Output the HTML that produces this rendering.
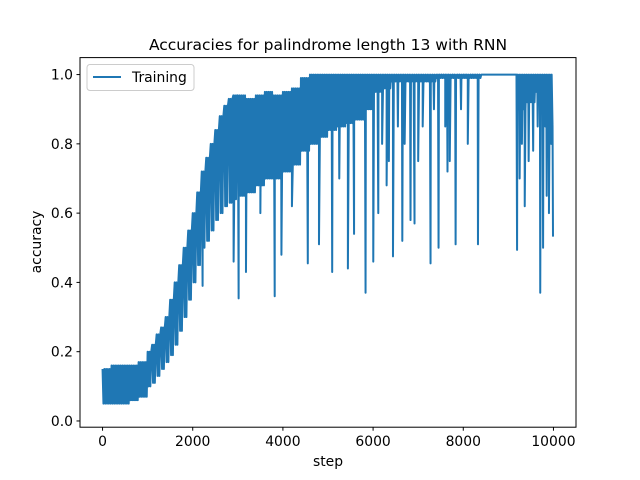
<!DOCTYPE html>
<html><head><meta charset="utf-8"><style>
body{margin:0;background:#fff;}
svg{display:block;font-family:"DejaVu Sans","Liberation Sans",sans-serif;}
</style></head><body>
<svg id="chart" width="640" height="480" xmlns="http://www.w3.org/2000/svg">
<rect width="640" height="480" fill="#fff"/>
<text x="328" y="50" font-size="15.5" text-anchor="middle">Accuracies for palindrome length 13 with RNN</text>
<g id="plot"></g>
<g id="axes"></g>
<text x="328" y="466" font-size="13.9" text-anchor="middle">step</text>
<text transform="translate(41,242) rotate(-90)" font-size="13.9" text-anchor="middle">accuracy</text>
<rect x="80" y="57.6" width="496" height="369.6" fill="none" stroke="#000" stroke-width="1"/>
<g>
<rect x="87" y="64.5" width="107" height="26" rx="3" fill="#fff" fill-opacity="0.8" stroke="#ccc"/>
<line x1="93" y1="77" x2="121" y2="77" stroke="#1f77b4" stroke-width="2"/>
<text x="132" y="82" font-size="13.9">Training</text>
</g>
</svg>
<script>
const binSteps=[0,200,400,600,800,1000,1100,1200,1300,1400,1500,1600,1700,1800,1900,2000,2100,2200,2300,2400,2500,2600,2700,2800,2900,3000,3200,3400,3600,3800,4000,4200,4400,4600,4800,5000,5200,5400,5600,5800,6000,6200,6400,6600,6800,7000,7200,7400,7600,7800,8000,8200,8400,8600,8800,9000,9200,9400,9600,9800];
const upperAcc=[0.15,0.16,0.16,0.16,0.17,0.2,0.22,0.25,0.27,0.3,0.35,0.4,0.45,0.5,0.55,0.6,0.66,0.72,0.76,0.8,0.84,0.88,0.91,0.93,0.94,0.94,0.93,0.94,0.95,0.94,0.95,0.96,0.99,1,1,1,1,1,1,1,1,1,1,1,1,1,1,1,1,1,1,1,1,1,1,1,1,1,1,1];
const lowerAcc=[0.05,0.05,0.05,0.06,0.07,0.1,0.11,0.13,0.15,0.17,0.19,0.22,0.26,0.3,0.35,0.4,0.45,0.5,0.52,0.55,0.58,0.6,0.62,0.63,0.64,0.65,0.66,0.68,0.7,0.7,0.72,0.74,0.78,0.8,0.82,0.84,0.85,0.86,0.87,0.9,0.95,0.96,0.98,0.98,0.98,0.98,0.98,0.99,0.99,0.99,0.99,0.99,1,1,1,1,0.9,0.92,0.95,0.85];
const spikeSteps=[2219,2907,3018,3181,3818,3967,4552,4800,5093,5441,5578,5833,6004,6115,6441,6648,6830,6919,7274,7452,7830,8326,9193,9363,9707,9770,9990,3500,4200,5250,6300,7000,7650,8100,9450,9900,6200,6350,6550,6700,7100,7350,7600,7700,7950,9250,9300,9550,9650,9850,9950];
const spikeAcc=[0.39,0.46,0.354,0.43,0.36,0.48,0.455,0.51,0.43,0.44,0.54,0.37,0.46,0.6,0.475,0.52,0.58,0.57,0.455,0.5,0.51,0.51,0.494,0.62,0.37,0.5,0.532,0.6,0.62,0.7,0.68,0.75,0.72,0.8,0.75,0.6,0.8,0.75,0.85,0.8,0.85,0.9,0.85,0.75,0.9,0.7,0.8,0.78,0.85,0.65,0.8];
const xTicks=[0,2000,4000,6000,8000,10000];
const yTicks=[0.0,0.2,0.4,0.6,0.8,1.0];
const yTickLabels=["0.0","0.2","0.4","0.6","0.8","1.0"];

const X0=80,W=496,Y0=57.6,H=369.6,xmin=-500,xmax=10500,ymin=-0.018,ymax=1.049;
const sx=v=>X0+(v-xmin)/(xmax-xmin)*W;
const sy=v=>Y0+H-(v-ymin)/(ymax-ymin)*H;
const NS="http://www.w3.org/2000/svg";
let pts=[];
binSteps.forEach((s,i)=>{const end=i+1<binSteps.length?binSteps[i+1]:10000;let k=0;for(let t=s;t<end;t+=20,k++){pts.push([t,k%2?lowerAcc[i]:upperAcc[i]]);}});
spikeSteps.forEach((s,i)=>pts.push([s,spikeAcc[i]]));
pts.sort((a,b)=>a[0]-b[0]);
const line=document.createElementNS(NS,'polyline');


line.setAttribute('points',pts.map(p=>sx(p[0]).toFixed(2)+','+sy(p[1]).toFixed(2)).join(' '));
line.setAttribute('fill','none');line.setAttribute('stroke','#1f77b4');line.setAttribute('stroke-width','2');line.setAttribute('stroke-linejoin','round');
document.getElementById('plot').appendChild(line);
const ax=document.getElementById('axes');
xTicks.forEach(t=>{
  const l=document.createElementNS(NS,'line');
  
  
  l.setAttribute('x1',sx(t));l.setAttribute('x2',sx(t));l.setAttribute('y1',427.2);l.setAttribute('y2',430.7);l.setAttribute('stroke','#000');
  ax.appendChild(l);
  const tx=document.createElementNS(NS,'text');
  
  
  tx.setAttribute('x',sx(t));tx.setAttribute('y',446);tx.setAttribute('font-size','13.9');tx.setAttribute('text-anchor','middle');
  tx.textContent=String(t);ax.appendChild(tx);
});
yTicks.forEach((t,i)=>{
  const l=document.createElementNS(NS,'line');
  
  
  l.setAttribute('x1',76.5);l.setAttribute('x2',80);l.setAttribute('y1',sy(t));l.setAttribute('y2',sy(t));l.setAttribute('stroke','#000');
  ax.appendChild(l);
  const tx=document.createElementNS(NS,'text');
  
  
  tx.setAttribute('x',73);tx.setAttribute('y',sy(t)+5);tx.setAttribute('font-size','13.9');tx.setAttribute('text-anchor','end');
  tx.textContent=yTickLabels[i];ax.appendChild(tx);
});
</script>
</body></html>
